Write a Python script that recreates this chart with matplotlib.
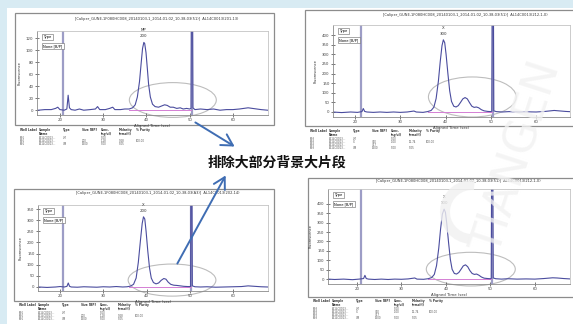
import numpy as np
import matplotlib.pyplot as plt
from matplotlib.patches import Rectangle, Ellipse, Wedge

W, H = 573, 324

# electropherogram traces: (aligned time [s], fluorescence)
TRACE_TL = [(15.0, 0), (16.5, 1), (18.0, 1), (19.0, 3), (19.5, 5), (20.0, 1), (21.0, 0), (21.6, 2),
            (21.9, 25), (22.2, 4), (22.6, 1), (23.5, 0), (24.5, 2), (25.5, 0), (27.0, 1), (28.2, 2),
            (28.7, 6), (29.2, 1), (30.5, 1), (31.5, 3), (32.2, 5), (32.7, 1), (34.0, 1), (35.0, 2),
            (36.0, 2), (36.8, 4), (37.4, 9), (37.9, 22), (38.4, 48), (38.8, 80), (39.1, 103),
            (39.4, 113), (39.6, 111), (39.9, 96), (40.2, 70), (40.5, 43), (40.9, 22), (41.4, 10),
            (42.0, 6), (42.8, 5), (43.5, 7), (44.2, 9), (44.8, 8), (45.5, 5), (46.2, 5), (47.0, 3),
            (47.8, 4), (48.5, 2), (49.3, 3), (50.0, 2), (50.3, 3), (50.4, 200), (50.65, 200),
            (50.75, 4), (51.2, 1), (52.5, 2), (54.0, 1), (55.5, 2), (57.0, 0), (58.5, 1), (60.0, 1),
            (61.5, 2), (62.5, 3), (63.5, 4), (64.5, 3), (65.5, 2), (66.5, 1), (68.0, 0)]

TRACE_TR = [(15.0, 0), (17.0, -3), (19.0, 0), (20.5, -2), (21.5, 2), (21.8, 18), (22.1, 3), (22.6, 0),
            (24.0, -2), (25.5, 0), (27.0, -2), (28.5, 0), (30.0, -2), (31.5, 0), (33.0, 5), (33.5, 0),
            (35.0, -2), (36.0, 2), (36.8, 8), (37.4, 25), (37.9, 70), (38.4, 160), (38.8, 260),
            (39.2, 345), (39.5, 375), (39.8, 360), (40.1, 300), (40.5, 200), (40.9, 110), (41.3, 55),
            (41.8, 30), (42.3, 26), (42.8, 33), (43.3, 50), (43.8, 68), (44.3, 75), (44.8, 68),
            (45.3, 48), (45.8, 30), (46.3, 24), (46.8, 26), (47.3, 22), (47.9, 12), (48.5, 6),
            (49.3, 3), (50.0, 2), (50.2, 4), (50.3, 600), (50.55, 600), (50.65, 6), (51.2, 2),
            (52.5, 0), (54.0, 2), (56.0, 0), (58.0, 1), (60.0, 0), (62.0, 3), (64.0, 8), (65.0, 6),
            (66.5, 3), (68.0, 1)]

TRACE_BL = [(15.0, 0), (17.0, -2), (19.0, 0), (20.0, 2), (21.0, 0), (21.6, 3), (21.9, 18), (22.2, 3),
            (22.6, 0), (24.0, -1), (25.5, 1), (27.0, 0), (28.5, -1), (30.0, 1), (31.5, 0), (33.0, 2),
            (34.5, 0), (35.5, 1), (36.3, 4), (37.0, 12), (37.6, 40), (38.1, 110), (38.6, 210),
            (39.0, 285), (39.3, 315), (39.6, 305), (39.9, 250), (40.3, 160), (40.7, 85), (41.1, 40),
            (41.6, 20), (42.2, 14), (42.8, 18), (43.4, 30), (44.0, 38), (44.5, 35), (45.0, 22),
            (45.6, 12), (46.3, 8), (47.0, 7), (47.8, 5), (48.6, 3), (49.5, 2), (50.1, 2), (50.2, 3),
            (50.3, 600), (50.5, 600), (50.6, 5), (51.2, 1), (52.5, 0), (54.0, 1), (56.0, -1),
            (58.0, 0), (60.0, 1), (62.0, 2), (63.5, 5), (65.0, 3), (66.5, 1), (68.0, 0)]

TRACE_BR = [(13.5, 0), (15.0, -2), (17.0, 0), (19.0, -3), (20.5, 0), (21.5, 3), (21.8, 20), (22.1, 3),
            (22.6, 0), (24.0, -2), (25.5, 0), (27.0, -2), (28.5, 0), (30.0, -1), (31.5, 1), (33.0, 6),
            (33.5, 0), (35.0, -1), (36.0, 2), (36.8, 8), (37.4, 25), (37.9, 72), (38.4, 165),
            (38.8, 265), (39.2, 345), (39.6, 372), (39.9, 355), (40.2, 295), (40.6, 195), (41.0, 105),
            (41.4, 52), (41.9, 30), (42.4, 27), (42.9, 35), (43.4, 52), (43.9, 70), (44.4, 76),
            (44.9, 66), (45.4, 45), (45.9, 30), (46.4, 25), (46.9, 27), (47.4, 21), (48.0, 11),
            (48.6, 5), (49.4, 3), (50.0, 2), (50.2, 4), (50.3, 600), (50.55, 600), (50.65, 6),
            (51.2, 2), (52.5, 0), (54.0, 2), (56.0, 0), (58.0, 1), (60.0, 0), (62.0, 3), (64.0, 7),
            (65.0, 6), (66.5, 3), (67.9, 1)]

TRACES = [TRACE_TL, TRACE_TR, TRACE_BL, TRACE_BR]

Y_TICKS = [[0, 20, 40, 60, 80, 100, 120],
           [0, 50, 100, 150, 200, 250, 300, 350, 400],
           [0, 50, 100, 150, 200, 250, 300, 350],
           [0, 50, 100, 150, 200, 250, 300, 350, 400]]
X_TICKS = [20, 30, 40, 50, 60]

LOWER_MARKER = [20.7, 21.4, 20.7, 20.9]
UPPER_MARKER = [50.5, 50.4, 50.4, 50.4]
BASELINE_SPAN = (36.0, 50.2)

PEAK_NAME = ["MP", "X", "X", "X"]
PEAK_SIZE = ["200", "300", "200", "300"]

# circled background region: (centre time, centre fluorescence, width [s], height)
ELLIPSES = [(46.1, 17, 20.1, 58), (45.9, 78, 19.4, 208),
            (45.9, 31, 20.3, 144), (45.6, 53, 20.0, 179)]

TITLES = ["[Caliper_GUNE-1F080HC008_20140103-1_2014-01-02_10-38-03(51)]  AL14C0013(201-13)",
          "[Caliper_GUNE-1F080HC008_20140103-1_2014-01-02_10-38-03(51)]  AL14C0013(212-1-X)",
          "[Caliper_GUNE-1F080HC008_20140103-1_2014-01-02_10-38-03(A3)]  AL14C0013(202-14)",
          "[Caliper_GUNE-1F080HC008_20140103-1_2014-01-02_10-38-03(51)]  AL14C0013(212-1-X)"]

TABLE_HEADER = ["Well Label", "Sample\nName", "Type", "Size [BP]", "Conc.\n(ng/ul)",
                "Molarity\n(nmol/l)", "% Purity"]
ROWS_3 = [["B01", "AL14C0013...", "LM", "", "5.00", "", ""],
          ["B01", "AL14C0013...", "", "200", "1.18", "9.28", "100.00"],
          ["B01", "AL14C0013...", "UM", "1500", "5.00", "5.05", ""]]
ROWS_4 = [["B03", "AL14C0013...", "LM", "", "5.00", "", ""],
          ["B03", "AL14C0013...", "X", "300", "1.00", "12.74", "100.00"],
          ["B03", "AL14C0013...", "", "357", "", "", ""],
          ["B03", "AL14C0013...", "UM", "1500", "5.00", "5.05", ""]]
TABLES = [ROWS_3, ROWS_4, ROWS_3, ROWS_4]

LABEL_CN = "排除大部分背景大片段"

# layout in screenshot pixels (x0, y0, x1, y1), y downwards
PANELS = [
    dict(frame=(15, 13, 274, 125), plot=(37, 31, 268, 115), xlim=(14.7, 68.1), ylim=(-8, 132),
         title=(157, 19), table=128),
    dict(frame=(305, 10, 585, 126), plot=(333, 25, 570, 117), xlim=(15.1, 67.5), ylim=(-26, 452),
         title=(465, 15), table=129),
    dict(frame=(14, 189, 274, 301), plot=(38, 205, 268, 291), xlim=(14.9, 68.1), ylim=(-18, 368),
         title=(158, 193), table=303),
    dict(frame=(308, 178, 585, 297), plot=(328, 189, 570, 284), xlim=(13.5, 67.9), ylim=(-26, 479),
         title=(458, 181), table=299),
]
COL_DX = [5, 24, 48, 67, 86, 104, 121]
ARROWS = [((193, 121), (237, 148)), ((176, 266), (227, 173))]


def fig_box(x0, y0, x1, y1):
    return [x0 / W, 1 - y1 / H, (x1 - x0) / W, (y1 - y0) / H]


fig = plt.figure(figsize=(W / 100, H / 100), dpi=100)
fig.patch.set_facecolor("#d8ebf3")

bg = fig.add_axes([0, 0, 1, 1], zorder=-5)
bg.set_xlim(0, W)
bg.set_ylim(H, 0)
bg.axis("off")
bg.add_patch(Rectangle((7, 8), W, H, facecolor="white", edgecolor="none"))

ov = fig.add_axes([0, 0, 1, 1], zorder=5)
ov.set_xlim(0, W)
ov.set_ylim(H, 0)
ov.axis("off")
ov.patch.set_alpha(0)

trace_color = "#4a4c9e"
for i, p in enumerate(PANELS):
    fx0, fy0, fx1, fy1 = p["frame"]
    bg.add_patch(Rectangle((fx0, fy0), fx1 - fx0, fy1 - fy0, facecolor="white",
                           edgecolor="#8c8c8c", lw=0.9))
    bg.text(p["title"][0], p["title"][1], TITLES[i], fontsize=2.6, ha="center", va="center",
            color="#333333")

    ax = fig.add_axes(fig_box(*p["plot"]))
    t, f = np.array(TRACES[i]).T
    ax.axvline(LOWER_MARKER[i], color="#9d9dc6", lw=1.6)
    ax.axvline(UPPER_MARKER[i], color="#9d9dc6", lw=1.6)
    ax.plot(BASELINE_SPAN, [0, 0], color="#d47fd4", lw=0.7)
    ax.plot(t, f, color=trace_color, lw=0.8)

    cx, cy, ew, eh = ELLIPSES[i]
    ax.add_patch(Ellipse((cx, cy), ew, eh, fill=False, edgecolor="#bdbdbd", lw=0.8,
                         clip_on=False))

    # peak annotation above the tallest fragment peak
    core = t < 48
    k = np.argmax(np.where(core, f, -1))
    ax.annotate(PEAK_SIZE[i], (t[k], f[k]), xytext=(0, 4), textcoords="offset pixels",
                ha="center", va="bottom", fontsize=2.8, color="#333333")
    ax.annotate(PEAK_NAME[i], (t[k], f[k]), xytext=(0, 10), textcoords="offset pixels",
                ha="center", va="bottom", fontsize=2.8, color="#333333")

    for j, txt in enumerate(["Type", "None [B/P]"]):
        ax.annotate(txt, (0, 1), xycoords="axes fraction", xytext=(6, -4 - 9 * j),
                    textcoords="offset pixels", ha="left", va="top", fontsize=2.6,
                    bbox=dict(boxstyle="square,pad=0.35", fc="white", ec="#666666", lw=0.4))

    ax.set_xlim(*p["xlim"])
    ax.set_ylim(*p["ylim"])
    ax.set_xticks(X_TICKS)
    ax.set_yticks(Y_TICKS[i])
    ax.tick_params(direction="inout", length=3, width=0.5, labelsize=2.8, pad=1,
                   colors="#444444")
    for side in ["top", "right"]:
        ax.spines[side].set_color("#c4c4c4")
        ax.spines[side].set_linewidth(0.6)
    for side in ["left", "bottom"]:
        ax.spines[side].set_color("#8a8a8a")
        ax.spines[side].set_linewidth(0.6)
    ax.set_xlabel("Aligned Time (sec)", fontsize=2.8, labelpad=1, color="#333333")
    ax.set_ylabel("Fluorescence", fontsize=2.6, labelpad=3, color="#333333")

    # peak table under each electropherogram
    ty = p["table"]
    for c, h in enumerate(TABLE_HEADER):
        ov.text(fx0 + COL_DX[c], ty, h, fontsize=2.1, weight="bold", va="top", ha="left",
                color="#333333", linespacing=1.0)
    for r, row in enumerate(TABLES[i]):
        for c, v in enumerate(row):
            ov.text(fx0 + COL_DX[c], ty + 8 + 3.0 * r, v, fontsize=1.9, va="top", ha="left",
                    color="#555555")

for (x0, y0), (x1, y1) in ARROWS:
    ov.annotate("", xy=(x1, y1), xytext=(x0, y0),
                arrowprops=dict(arrowstyle="->,head_length=0.8,head_width=0.45",
                                color="#3f6db3", lw=1.4))

ov.text(277, 163, LABEL_CN, fontsize=10, fontweight="bold", ha="center", va="center",
        family=["Noto Sans CJK SC", "DejaVu Sans"], color="#111111")

# faint company watermark
ov.add_patch(Wedge((472, 212), 32, 95, 275, width=10, facecolor="#f1f1f1", edgecolor="none",
                   alpha=0.8))
ov.text(518, 158, "TIANGEN", rotation=72, fontsize=32, color="#f2f2f2",
        alpha=0.8, ha="center", va="center")

fig.savefig("out.png", dpi=100, facecolor=fig.get_facecolor())
